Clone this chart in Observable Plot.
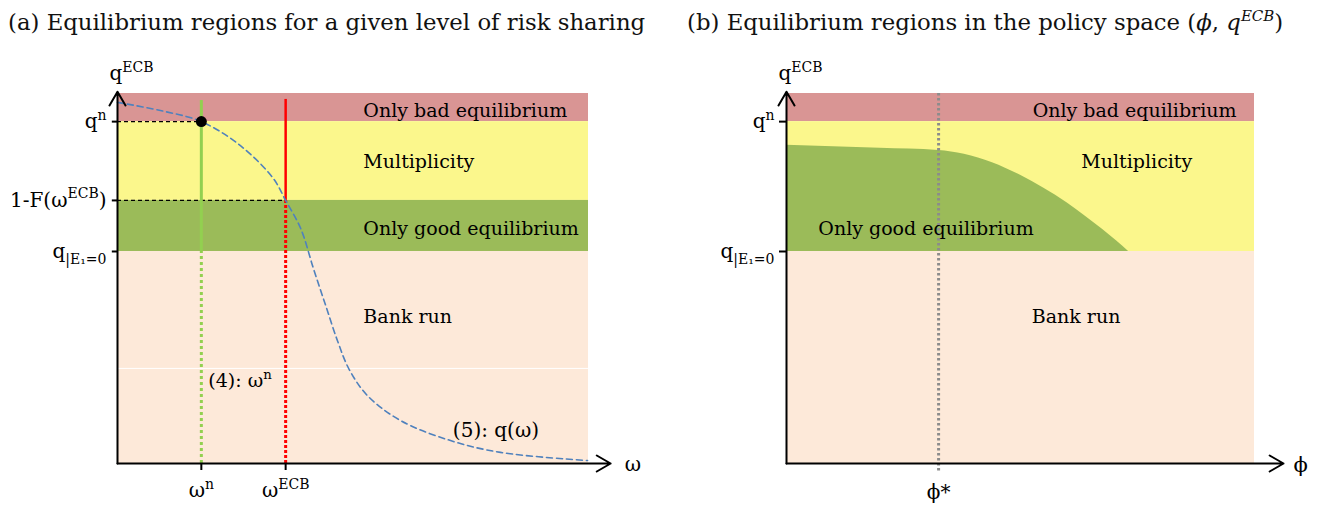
<!DOCTYPE html>
<html>
<head>
<meta charset="utf-8">
<script src="https://cdn.jsdelivr.net/npm/d3@7"></script>
<script src="https://cdn.jsdelivr.net/npm/@observablehq/plot@0.6"></script>
<style>
  body { margin: 0; background: #fff; }
  #wrap { display: flex; width: 1321px; }
  .title { height: 45px; line-height: 45px; font-family: "DejaVu Serif", serif; font-size: 22.8px; color: #111; white-space: nowrap; }
  .title sup { font-size: 15px; line-height: 0; }
</style>
</head>
<body>
<div id="wrap">
  <div style="width:660px"><div class="title" style="padding-left:8px">(a) Equilibrium regions for a given level of risk sharing</div><div id="pa"></div></div>
  <div style="width:661px"><div class="title" style="padding-left:27px">(b) Equilibrium regions in the policy space (<i>ϕ</i>, <i>q</i><sup><i>ECB</i></sup>)</div><div id="pb"></div></div>
</div>
<script>
// ---------- data (abstract units, axes 0..100) ----------
const regionNames = ["Only bad equilibrium", "Multiplicity", "Only good equilibrium", "Bank run"];
// Panel (a): q levels
const qTop = 100;
const qN = 92.4;          // q^n
const qF = 71.1;          // 1-F(ω^ECB)
const qE = 57.3;          // q_{|E1=0}
const qTickValuesA = [qN, qF, qE];
const qTickLabelsA = ["q^{n}", "1-F(ω^{ECB})", "q_{|E₁=0}"];
const omegaTickValues = [17.8, 35.7];
const omegaTickLabels = ["ω^{n}", "ω^{ECB}"];
// curve (5): q(ω)
const curveOmega = [0, 9.1, 17.8, 26.1, 33.1, 35.7, 38.9, 41.6, 44.2, 46.7, 49.2, 53.1, 60.1, 70.7, 81.3, 99.8];
const curveQ     = [97.6, 95.4, 92.4, 85.9, 77.0, 71.1, 63.5, 52.7, 42.7, 33.2, 25.4, 18.3, 11.6, 6.2, 3.0, 0.8];
// Panel (b)
const qTickValuesB = [qN, qE];
const qTickLabelsB = ["q^{n}", "q_{|E₁=0}"];
const phiStar = 32.5;
const phiBoundary = [0, 10, 20, 32.5, 38, 44, 50, 55, 60, 64, 67.5, 70.5, 73.1];
const qBoundary   = [86.0, 85.6, 85.2, 84.6, 83.6, 81.3, 77.9, 74.4, 70.4, 66.7, 63.3, 60.2, 57.3];

// ---------- styles ----------
const FONT = "DejaVu Serif";
const C = {bad: "#D99594", multi: "#FBF78C", good: "#9BBB59", run: "#FDE9D9"};

function richify(svg) {
  const NS = "http://www.w3.org/2000/svg";
  svg.querySelectorAll("text").forEach(t => {
    const s = t.textContent;
    if (!/[\^_]\{/.test(s)) return;
    const fs = parseFloat(getComputedStyle(t).fontSize) || 18;
    t.textContent = "";
    const re = /([\^_])\{([^}]*)\}|([^\^_]+)/g;
    let m, cur = 0;
    while ((m = re.exec(s))) {
      const ts = document.createElementNS(NS, "tspan");
      let target;
      if (m[3] !== undefined) { ts.textContent = m[3]; target = 0; }
      else {
        ts.textContent = m[2];
        ts.setAttribute("font-size", (0.7 * fs).toFixed(1));
        target = m[1] === "^" ? -0.42 * fs : 0.3 * fs;
      }
      if (target - cur !== 0) ts.setAttribute("dy", (target - cur).toFixed(1));
      cur = target;
      t.appendChild(ts);
    }
  });
}

const common = (w, ml, mr) => ({
  width: w, height: 461, marginLeft: ml, marginRight: mr, marginTop: 48, marginBottom: 43,
  x: {domain: [0, 100], axis: null},
  y: {domain: [0, 100], axis: null},
  color: {type: "identity"},
  style: {fontFamily: FONT, fontSize: "18px", overflow: "visible", background: "transparent"}
});

// ---------- Panel (a) ----------
const bandsA = [
  {y1: qN, y2: qTop, c: C.bad},
  {y1: qF, y2: qN, c: C.multi},
  {y1: qE, y2: qF, c: C.good},
  {y1: 0, y2: qE, c: C.run}
];
const curve = curveOmega.map((w, i) => ({x: w, y: curveQ[i]}));
const yTicksA = qTickValuesA.map((v, i) => ({y: v, label: qTickLabelsA[i]}));
const xTicksA = omegaTickValues.map((v, i) => ({x: v, label: omegaTickLabels[i]}));
const labelY = [95.4, 81.4, 63.5, 39.7];

const plotA = Plot.plot({
  ...common(660, 117, 72),
  marks: [
    Plot.rect(bandsA, {x1: 0, x2: 100, y1: "y1", y2: "y2", fill: "c"}),
    Plot.ruleY([25.7], {x1: 0, x2: 100, stroke: "white", strokeWidth: 1}),
    // dashed reference lines
    Plot.ruleY([qN], {x1: 0, x2: omegaTickValues[0], stroke: "black", strokeWidth: 1.3, strokeDasharray: "4,3"}),
    Plot.ruleY([qF], {x1: 0, x2: omegaTickValues[1], stroke: "black", strokeWidth: 1.3, strokeDasharray: "4,3"}),
    // ω^n line (4)
    Plot.ruleX([omegaTickValues[0]], {y1: qE, y2: 98.1, stroke: "#92D050", strokeWidth: 3}),
    Plot.ruleX([omegaTickValues[0]], {y1: 0, y2: qE, stroke: "#92D050", strokeWidth: 3, strokeDasharray: "3,3"}),
    // ω^ECB line
    Plot.ruleX([omegaTickValues[1]], {y1: qF, y2: 98.4, stroke: "#FF0000", strokeWidth: 2.5}),
    Plot.ruleX([omegaTickValues[1]], {y1: 0, y2: qF, stroke: "#FF0000", strokeWidth: 3, strokeDasharray: "3,2"}),
    // curve (5)
    Plot.line(curve, {x: "x", y: "y", curve: "catmull-rom", stroke: "#4F81BD", strokeWidth: 1.6, strokeDasharray: "6,4"}),
    Plot.dot([{x: omegaTickValues[0], y: qN}], {x: "x", y: "y", r: 5.5, fill: "black"}),
    // axes
    Plot.arrow([{}], {x1: 0, y1: 0, x2: 104.7, y2: 0, stroke: "black", strokeWidth: 2, headLength: 12}),
    Plot.arrow([{}], {x1: 0, y1: 0, x2: 0, y2: 100.5, stroke: "black", strokeWidth: 2, headLength: 12}),
    Plot.ruleY(yTicksA, {y: "y", x1: -1.1, x2: 0, stroke: "black", strokeWidth: 2}),
    Plot.ruleX(xTicksA, {x: "x", y1: -1.9, y2: 0, stroke: "black", strokeWidth: 2}),
    Plot.text(yTicksA, {x: 0, y: "y", text: "label", textAnchor: "end", dx: -11, fontSize: 20}),
    Plot.text(xTicksA, {x: "x", y: 0, text: "label", dy: 27, fontSize: 20}),
    Plot.text(["q^{ECB}"], {x: 0, y: 100, text: d => d, textAnchor: "start", dx: -8, dy: -20, fontSize: 20}),
    Plot.text(["ω"], {x: 104.7, y: 0, text: d => d, textAnchor: "start", dx: 14, dy: 1, fontSize: 20}),
    Plot.text(regionNames, {x: 52.2, y: (d, i) => labelY[i], text: d => d, textAnchor: "start", fontSize: 19}),
    Plot.text(["(4): ω^{n}"], {x: omegaTickValues[0], y: 22.2, text: d => d, textAnchor: "start", dx: 7, fontSize: 19}),
    Plot.text(["(5): q(ω)"], {x: 71.2, y: 8.9, text: d => d, textAnchor: "start", fontSize: 20})
  ]
});
document.getElementById("pa").appendChild(plotA);
richify(plotA);

// ---------- Panel (b) ----------
const bandsB = [
  {y1: qN, y2: qTop, c: C.bad},
  {y1: qE, y2: qN, c: C.multi},
  {y1: 0, y2: qE, c: C.run}
];
const boundary = phiBoundary.map((p, i) => ({x: p, y: qBoundary[i]}));
const yTicksB = qTickValuesB.map((v, i) => ({y: v, label: qTickLabelsB[i]}));

const plotB = Plot.plot({
  ...common(661, 126, 67),
  marks: [
    Plot.rect(bandsB, {x1: 0, x2: 100, y1: "y1", y2: "y2", fill: "c"}),
    Plot.areaY(boundary, {x: "x", y1: qE, y2: "y", curve: "monotone-x", fill: C.good}),
    Plot.ruleX([phiStar], {y1: -2, y2: 100, stroke: "#8C8C8C", strokeWidth: 3, strokeDasharray: "2.5,2.5"}),
    Plot.arrow([{}], {x1: 0, y1: 0, x2: 106.2, y2: 0, stroke: "black", strokeWidth: 2, headLength: 12}),
    Plot.arrow([{}], {x1: 0, y1: 0, x2: 0, y2: 100.5, stroke: "black", strokeWidth: 2, headLength: 12}),
    Plot.ruleY(yTicksB, {y: "y", x1: -1.5, x2: 0, stroke: "black", strokeWidth: 2}),
    Plot.text(yTicksB, {x: 0, y: "y", text: "label", textAnchor: "end", dx: -12, fontSize: 20}),
    Plot.text(["ϕ*"], {x: phiStar, y: 0, text: d => d, dy: 29, fontSize: 20}),
    Plot.text(["q^{ECB}"], {x: 0, y: 100, text: d => d, textAnchor: "start", dx: -8, dy: -20, fontSize: 20}),
    Plot.text(["ϕ"], {x: 106.2, y: 0, text: d => d, textAnchor: "start", dx: 10, dy: 2, fontSize: 21}),
    Plot.text(regionNames, {
      x: (d, i) => [52.6, 63.0, 6.8, 52.4][i],
      y: (d, i) => labelY[i],
      text: d => d, textAnchor: "start", fontSize: 19
    })
  ]
});
document.getElementById("pb").appendChild(plotB);
richify(plotB);
</script>
</body>
</html>
